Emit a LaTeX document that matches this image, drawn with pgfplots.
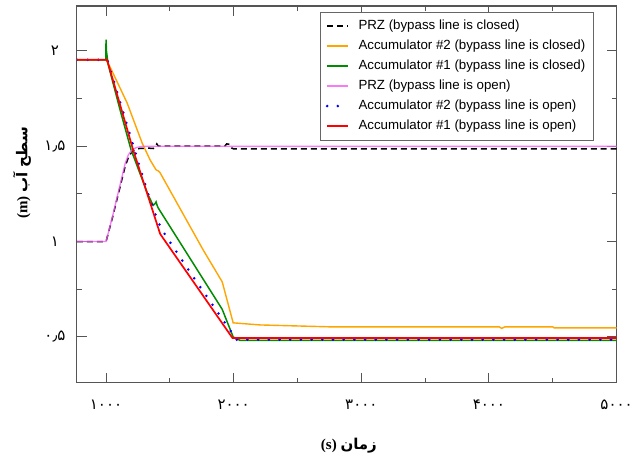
\documentclass[border=0pt]{standalone}
\usepackage{fontspec}
\usepackage{pgfplots}
\pgfplotsset{compat=1.18}
\setmainfont{Liberation Sans}
\newfontfamily\arabicfont[Script=Arabic]{DejaVu Sans}
\newfontfamily\latinserif{Liberation Serif}
\TeXXeTstate=1
\definecolor{przopen}{RGB}{245,90,245}
\definecolor{accorange}{RGB}{255,165,0}
\definecolor{accgreen}{RGB}{0,140,0}
\definecolor{axisgray}{RGB}{85,85,85}

\begin{document}
\begin{tikzpicture}
\begin{axis}[
  scale only axis, width=540bp, height=377bp,
  xmin=772, xmax=5000, ymin=0.26, ymax=2.235,
  xtick={1000,2000,3000,4000,5000},
  xticklabels={۱۰۰۰,۲۰۰۰,۳۰۰۰,۴۰۰۰,۵۰۰۰},
  ytick={0.5,1,1.5,2},
  yticklabels={۰٫۵,۱,۱٫۵,۲},
  minor x tick num=1, minor y tick num=1,
  tick align=inside,
  major tick length=10bp, minor tick length=5bp,
  every tick/.style={axisgray, line width=1bp},
  axis line style={axisgray, line width=1.1bp},
  tick label style={font=\arabicfont\fontsize{15bp}{18bp}\selectfont},
  xticklabel style={anchor=center, yshift=-22bp},
  yticklabel style={anchor=center, xshift=-22bp},
  xlabel={\latinserif\bfseries (s) \arabicfont\bfseries\beginR زمان\endR},
  ylabel={\latinserif\bfseries (m) \arabicfont\beginR سطح آب\endR},
  label style={font=\fontsize{15bp}{18bp}\selectfont},
  xlabel style={at={([yshift=-63bp]axis description cs:0.504,0)}, anchor=center},
  ylabel style={at={([xshift=-55bp]axis description cs:0,0.557)}, anchor=center, rotate=0},
  legend style={at={(1,1)}, anchor=north east, xshift=-23bp, yshift=-6bp,
    draw=black!60, line width=0.6bp, inner xsep=5bp, inner ysep=3.8bp,
    font=\fontsize{13.3bp}{16bp}\selectfont, column sep=6bp,
    nodes={inner xsep=3bp, inner ysep=3.7bp, text height=9.6bp, text depth=3bp}},
  legend cell align=left,
  legend image code/.code={\draw[#1] (0bp,0bp) -- (21bp,0bp);},
]
% pressurizer level, bypass line closed
\addplot[black, line width=1.5bp, dash pattern=on 6bp off 4bp] coordinates {
  (772,1.0) (1000,1.0) (1050,1.125) (1100,1.26) (1150,1.395) (1180,1.45)
  (1215,1.478) (1260,1.488) (1330,1.49) (1370,1.488) (1385,1.496)
  (1398,1.512) (1410,1.5) (1440,1.5) (1930,1.5) (1945,1.512) (1968,1.51)
  (1985,1.49) (2000,1.486) (5000,1.486)};
\addlegendentry{PRZ (bypass line is closed)}
% accumulator 2, bypass line closed
\addplot[accorange, line width=1.4bp] coordinates {
  (772,1.953) (1000,1.953) (1031,1.916) (1165,1.727) (1282,1.518)
  (1345,1.428) (1392,1.376) (1410,1.37) (1424,1.36) (1761,0.956)
  (1910,0.789) (1996,0.574) (2208,0.563) (2757,0.553) (4080,0.553)
  (4100,0.545) (4125,0.553) (4500,0.553) (4510,0.548) (5000,0.548)};
\addlegendentry{Accumulator \#2 (bypass line is closed)}
% accumulator 1, bypass line closed
\addplot[color=accgreen, line width=1.5bp] coordinates {
  (772,1.953) (998,1.953) (1000,2.058) (1003,2.0) (1016,1.93) (1110,1.69)
  (1196,1.481) (1329,1.245) (1369,1.19) (1385,1.2) (1392,1.208)
  (1400,1.19) (1408,1.177) (1910,0.645) (1996,0.5) (2051,0.482)
  (5000,0.482)};
\addlegendentry{Accumulator \#1 (bypass line is closed)}
% pressurizer level, bypass line open
\addplot[przopen, line width=1.3bp, opacity=0.8] coordinates {
  (772,1.0) (1000,1.0) (1050,1.13) (1100,1.27) (1150,1.41) (1175,1.455)
  (1204,1.482) (1243,1.494) (1290,1.5) (5000,1.5)};
\addlegendentry{PRZ (bypass line is open)}
% accumulator 2, bypass line open
\addplot[blue, line width=2.8bp, line cap=round, dash pattern=on 0bp off 10.7bp] coordinates {
  (772,1.953) (1010,1.953) (1228,1.47) (1330,1.25) (1408,1.103)
  (1463,1.035) (1698,0.80) (1988,0.52) (2020,0.486) (5000,0.486)};
\addlegendentry{Accumulator \#2 (bypass line is open)}
% accumulator 1, bypass line open
\addplot[red, line width=1.7bp] coordinates {
  (772,1.953) (1008,1.953) (1212,1.481) (1424,1.04) (1990,0.495)
  (5000,0.495)};
\addlegendentry{Accumulator \#1 (bypass line is open)}
\end{axis}
\path ([shift={(-77bp,-76bp)}]current axis.south west) rectangle ([shift={(19bp,6bp)}]current axis.north east);
\end{tikzpicture}
\end{document}
